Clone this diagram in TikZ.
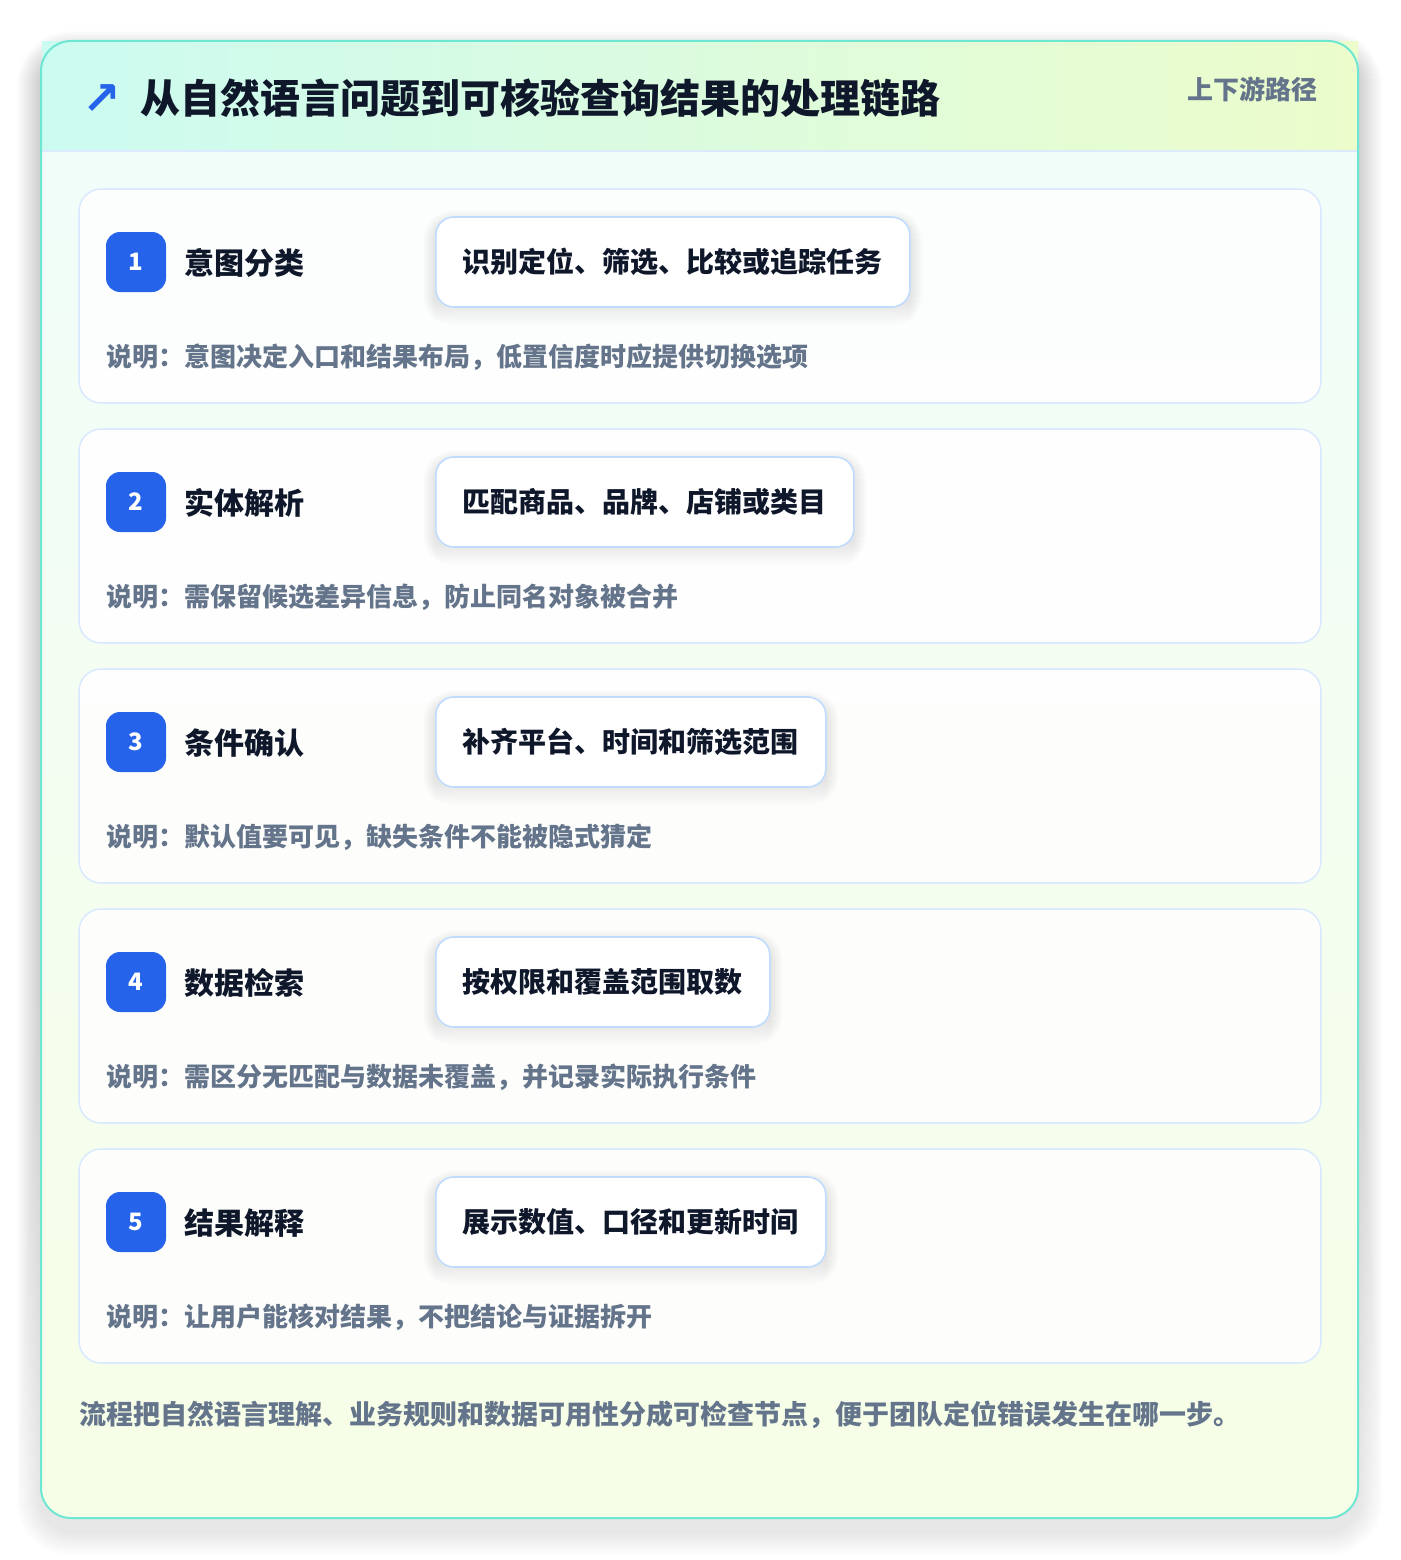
\documentclass[tikz,border=0pt]{standalone}
\usepackage{fontspec}
\setmainfont{Noto Sans CJK SC}
\newfontfamily\djv{DejaVu Sans}
\definecolor{ink}{HTML}{0F172A}
\definecolor{muted}{HTML}{64748B}
\definecolor{teal}{HTML}{6EE7D2}
\definecolor{hdrL}{HTML}{CCFBF1}
\definecolor{hdrR}{HTML}{ECFCCB}
\definecolor{bodyT}{HTML}{F0FDFA}
\definecolor{bodyB}{HTML}{F7FEE7}
\definecolor{cardline}{HTML}{DBEAFE}
\definecolor{pillline}{HTML}{BFDBFE}
\definecolor{badge}{HTML}{2563EB}
\definecolor{shade}{HTML}{334155}
\tikzset{
  x=1pt,y=-1pt,
  stepcard/.style={draw=cardline,line width=1.6pt,fill=white,fill opacity=0.85,draw opacity=1,rounded corners=22pt},
  badgebox/.style={fill=badge,rounded corners=14pt,minimum width=60pt,minimum height=60pt,inner sep=0pt,text=white,font=\fontsize{24pt}{28pt}\selectfont\bfseries},
  steptitle/.style={anchor=west,inner sep=0pt,text=ink,font=\fontsize{30pt}{36pt}\selectfont\bfseries},
  pill/.style={anchor=west,draw=pillline,line width=1.6pt,fill=white,rounded corners=18pt,minimum height=90pt,inner xsep=27pt,inner ysep=0pt,text=ink,font=\fontsize{28pt}{34pt}\selectfont\bfseries},
  desc/.style={anchor=west,inner sep=0pt,text=muted,font=\fontsize{26pt}{32pt}\selectfont\bfseries},
}
\begin{document}
\begin{tikzpicture}
\useasboundingbox (0,0) rectangle (1400,1560);
\fill[white] (0,0) rectangle (1400,1560);
% outer card soft shadow
\foreach \k in {1,...,24}{
  \fill[shade,opacity=0.0045,rounded corners=30pt+\k pt] (41-\k,41-\k+14) rectangle (1358+\k,1518+\k+14);
}
\path[rounded corners=30pt,top color=bodyT,bottom color=bodyB] (41,41) rectangle (1358,1518);
% header
\path[left color=hdrL,right color=hdrR] (42,42) rectangle (1358,151);
\draw[cardline,line width=1.6pt] (42,151) -- (1357,151);
\draw[teal,line width=2pt,rounded corners=30pt] (41,41) rectangle (1358,1518);
\node[anchor=center,inner sep=0pt,text=badge,font=\djv\fontsize{46pt}{50pt}\selectfont\bfseries] (arrow) at (102,100) {↗};
\node[anchor=west,inner sep=0pt,text=ink,font=\fontsize{40pt}{48pt}\selectfont\bfseries] (title) at (140,98) {从自然语言问题到可核验查询结果的处理链路};
\node[anchor=east,inner sep=0pt,text=muted,font=\fontsize{26pt}{32pt}\selectfont\bfseries] (tag) at (1318,89) {上下游路径};
% steps
\foreach \i/\t/\p/\d in {
 0/意图分类/识别定位、筛选、比较或追踪任务/说明：意图决定入口和结果布局，低置信度时应提供切换选项,
 1/实体解析/匹配商品、品牌、店铺或类目/说明：需保留候选差异信息，防止同名对象被合并,
 2/条件确认/补齐平台、时间和筛选范围/说明：默认值要可见，缺失条件不能被隐式猜定,
 3/数据检索/按权限和覆盖范围取数/说明：需区分无匹配与数据未覆盖，并记录实际执行条件,
 4/结果解释/展示数值、口径和更新时间/说明：让用户能核对结果，不把结论与证据拆开}{
  \pgfmathsetmacro{\yo}{240*\i}
  \pgfmathtruncatemacro{\n}{\i+1}
  \path[stepcard] (79,189+\yo) rectangle (1321,403+\yo);
  \node[badgebox] (b\n) at (136,262+\yo) {\n};
  \node[steptitle] (t\n) at (184,263+\yo) {\t};
  \node[pill,opacity=0] (g\n) at (435,262+\yo) {\p};
  \foreach \k in {1,...,12}{
    \fill[shade,opacity=0.004,rounded corners=18pt+\k pt] ([xshift=-\k pt,yshift=-\k pt-6pt]g\n.south west) rectangle ([xshift=\k pt,yshift=\k pt-6pt]g\n.north east);
  }
  \node[pill] (p\n) at (435,262+\yo) {\p};
  \node[desc] (d\n) at (106,357+\yo) {\d};
}
\node[anchor=west,inner sep=0pt,text=muted,font=\fontsize{27pt}{32pt}\selectfont\bfseries] (foot) at (79,1415) {流程把自然语言理解、业务规则和数据可用性分成可检查节点，便于团队定位错误发生在哪一步。};
\end{tikzpicture}
\end{document}
